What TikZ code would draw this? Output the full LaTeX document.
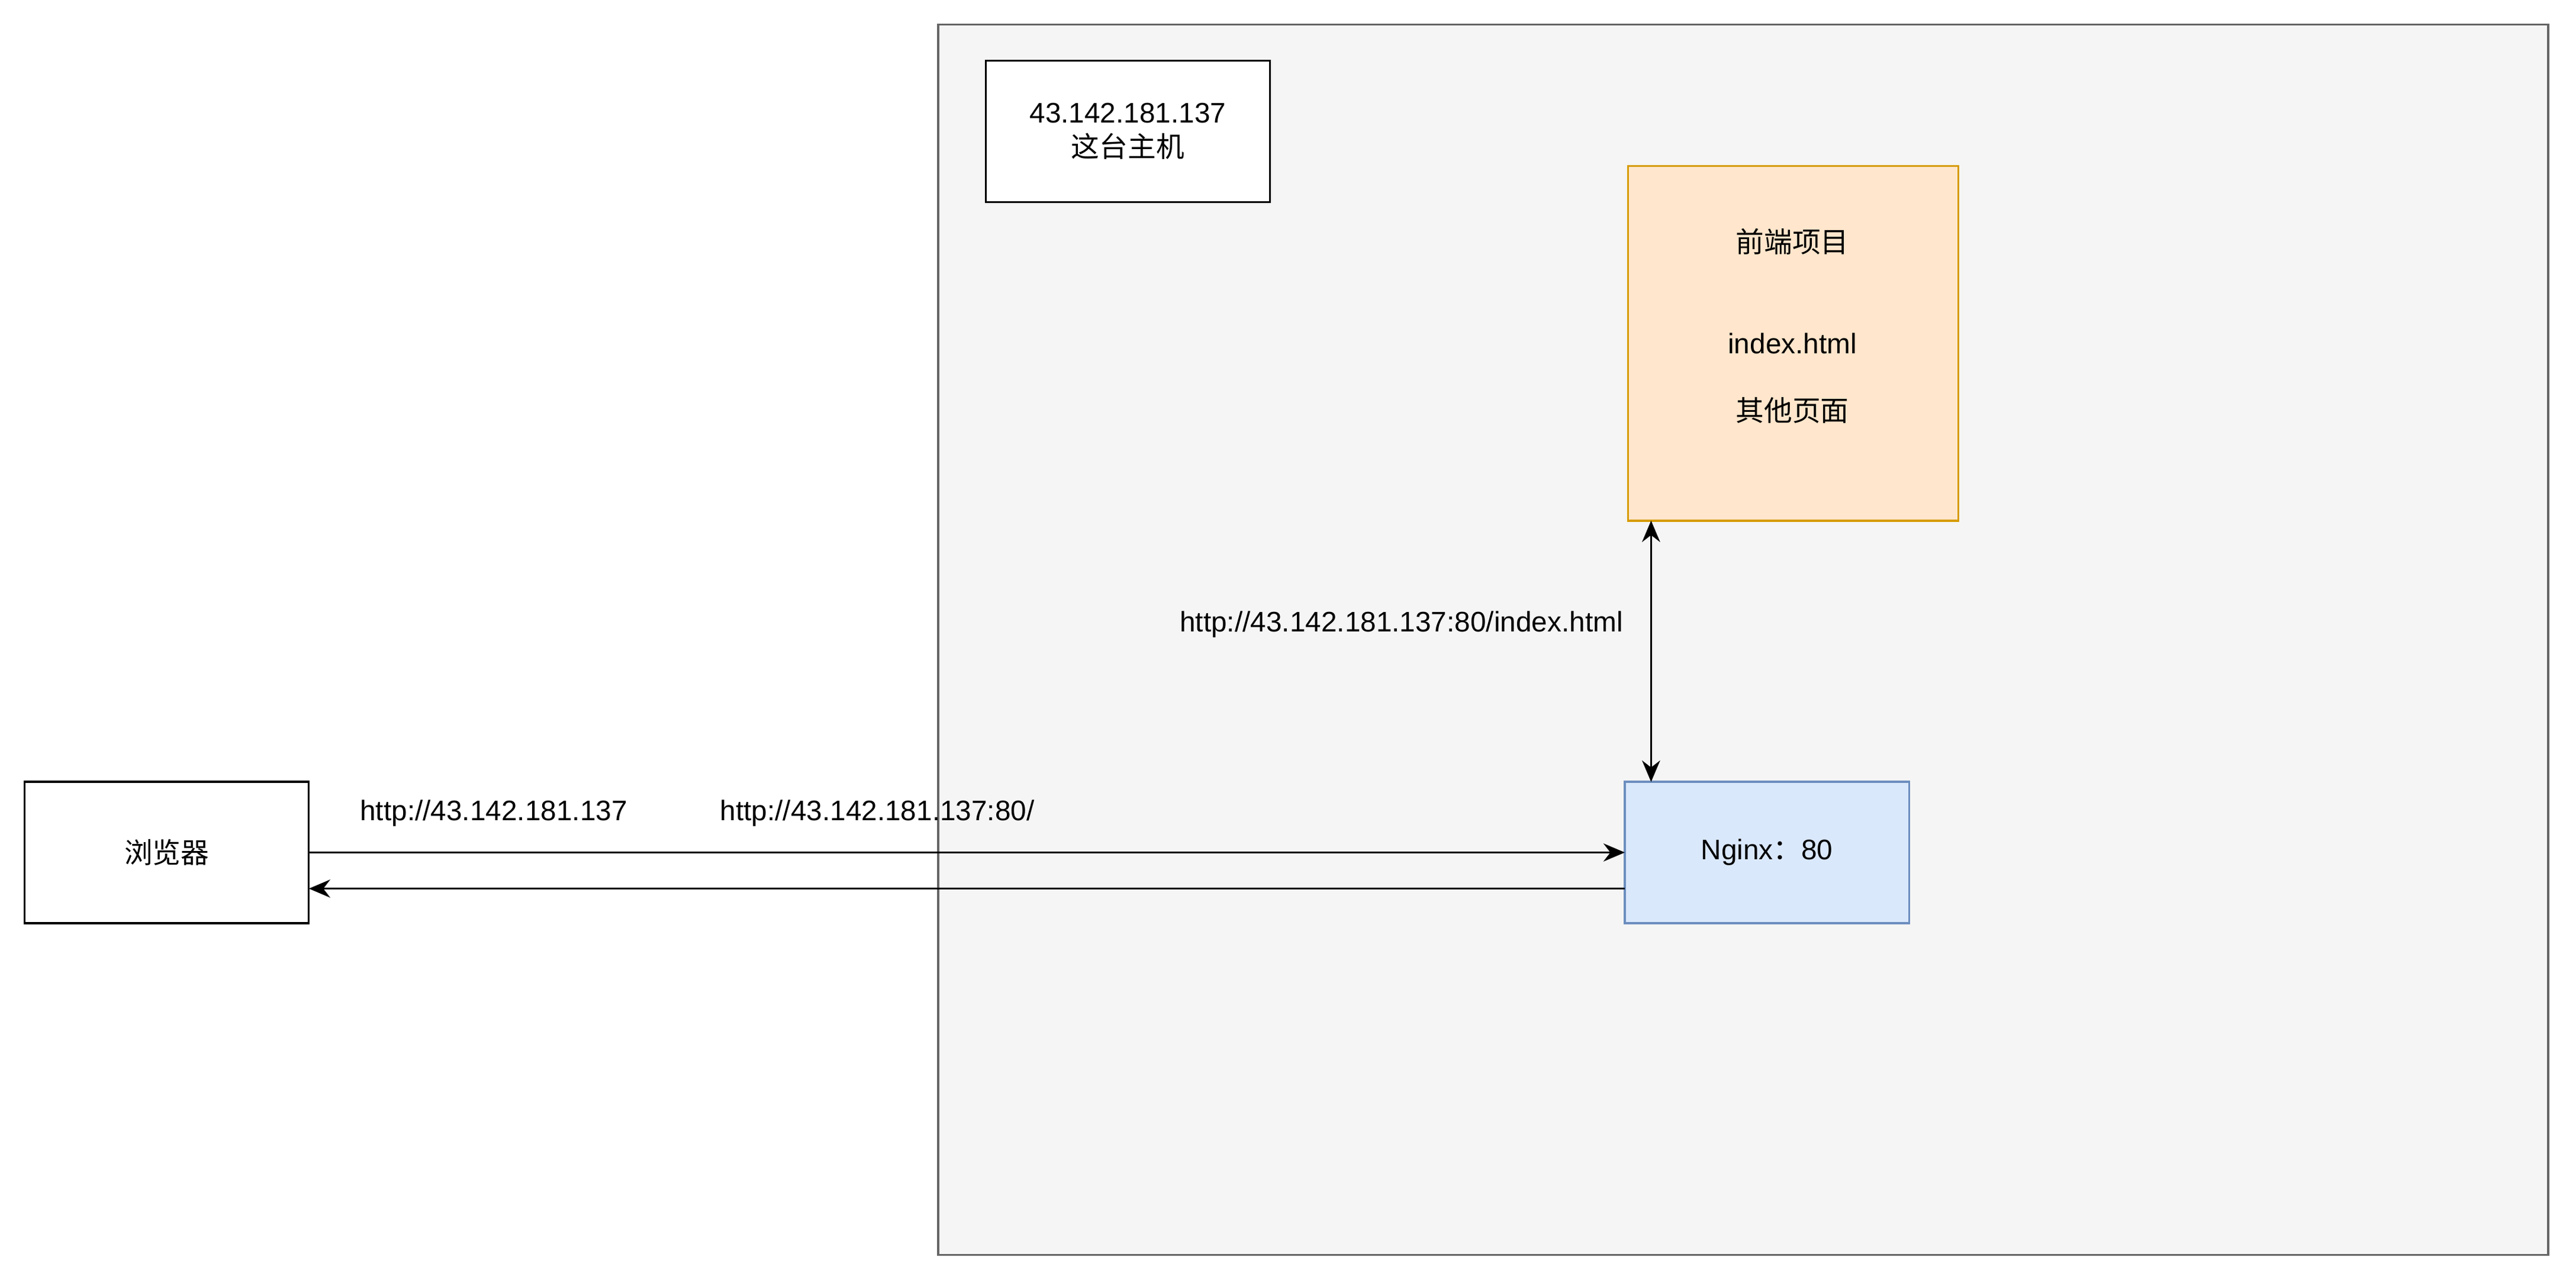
\documentclass[tikz,border=0pt]{standalone}
\usepackage{fontspec}
\setmainfont{Liberation Sans}
\newfontfamily\cjk{Noto Sans CJK SC}
\usetikzlibrary{arrows.meta}
\definecolor{contfill}{HTML}{F5F5F5}
\definecolor{contdraw}{HTML}{666666}
\definecolor{orfill}{HTML}{FFE6CC}
\definecolor{ordraw}{HTML}{D79B00}
\definecolor{blfill}{HTML}{DAE8FC}
\definecolor{bldraw}{HTML}{6C8EBF}
\begin{document}
\begin{tikzpicture}[x=1pt,y=-1pt,
  every node/.style={font=\fontsize{17.2}{21}\selectfont},
  lbl/.style={inner sep=0pt},
  arr/.style={-{Stealth[length=13pt,width=11pt]},line width=1.2pt}]
\useasboundingbox (0,0) rectangle (1568,781);
\fill[white] (0,0) rectangle (1568,781);
\draw[fill=contfill,draw=contdraw,line width=1.2pt] (571,15) rectangle (1551,764);
\draw[fill=white,line width=1.2pt] (600,37) rectangle (773,123);
\node[lbl,align=center] (host) at (686.5,80) {43.142.181.137\\{\cjk 这台主机}};
\draw[fill=orfill,draw=ordraw,line width=1.2pt] (991,101) rectangle (1192,317);
\coordinate (fbot) at (1005,317);
\node[lbl] (f1) at (1091,147) {\cjk 前端项目};
\node[lbl] (f2) at (1091,209) {index.html};
\node[lbl] (f3) at (1091,250) {\cjk 其他页面};
\draw[fill=blfill,draw=bldraw,line width=1.2pt] (989,476) rectangle (1162,562);
\node[lbl] (ng) at (1075.5,519) {Nginx{\cjk ：}80};
\coordinate (ntop) at (1005,476);
\coordinate (nl1) at (989,519);
\coordinate (nl2) at (989,541);
\draw[fill=white,line width=1.2pt] (15,476) rectangle (188,562);
\node[lbl] (br) at (101.5,519) {\cjk 浏览器};
\coordinate (br1) at (188,519);
\coordinate (br2) at (188,541);
\draw[arr] (br1) -- (nl1);
\draw[arr] (nl2) -- (br2);
\draw[arr,{Stealth[length=13pt,width=11pt]}-{Stealth[length=13pt,width=11pt]}] (fbot) -- (ntop);
\node[lbl] (l1) at (300.5,495) {http://43.142.181.137};
\node[lbl] (l2) at (534,495) {http://43.142.181.137:80/};
\node[lbl] (l3) at (853,380) {http://43.142.181.137:80/index.html};
\end{tikzpicture}
\end{document}
